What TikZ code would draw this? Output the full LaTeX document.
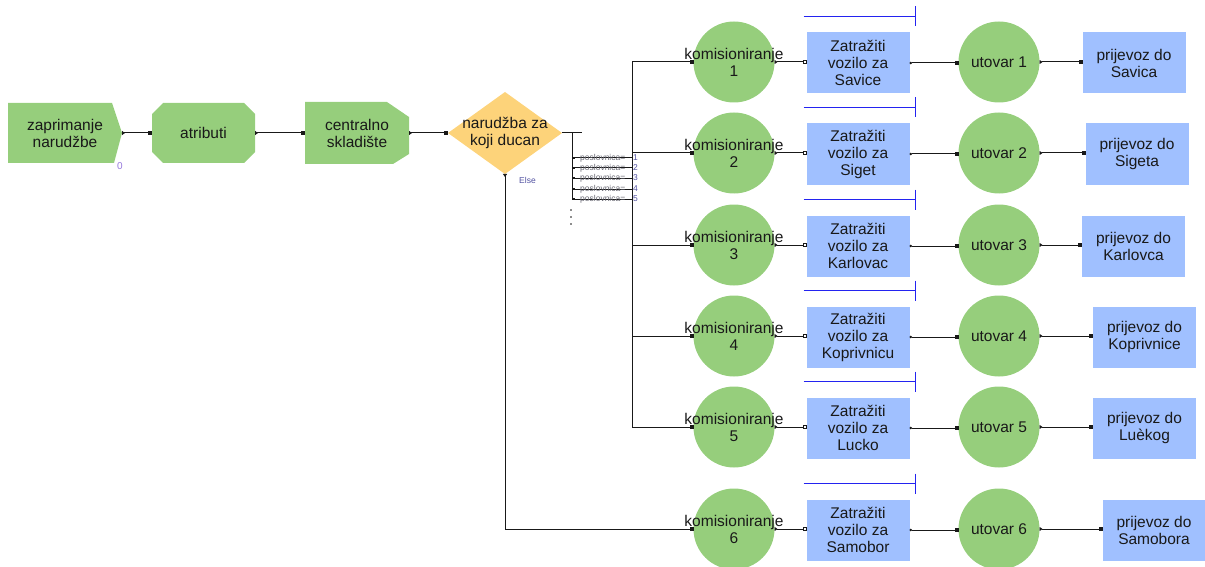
\documentclass[tikz,border=0pt]{standalone}
\usepackage{fontspec}
\setmainfont{Liberation Sans}
\usetikzlibrary{arrows.meta,calc}
\definecolor{gfill}{RGB}{150,206,124}
\definecolor{bfill}{RGB}{160,192,255}
\definecolor{ofill}{RGB}{253,211,122}
\definecolor{bline}{RGB}{35,35,240}
\definecolor{txtc}{RGB}{25,25,25}
\definecolor{lblgray}{RGB}{105,105,115}
\definecolor{lblblue}{RGB}{80,80,160}
\definecolor{purp}{RGB}{150,120,220}
\begin{document}
\begin{tikzpicture}[x=1pt,y=-1pt,
  every node/.style={font=\fontsize{15.5}{17}\selectfont, text=txtc, align=center},
  holder/.style={inner sep=0pt, outer sep=0pt, rectangle},
  circ/.style={circle, fill=gfill, minimum size=81pt, inner sep=0pt, outer sep=0pt},
  bbox/.style={rectangle, fill=bfill, minimum width=103pt, minimum height=61pt, inner sep=0pt, outer sep=0pt},
  conn/.style={draw=txtc, line width=1pt},
  sq/.style={-{Square[length=4pt,width=4pt]}},
  trisq/.style={{Triangle[reversed,length=3pt,width=4pt]}-{Square[length=4pt,width=4pt]}},
  triosq/.style={{Triangle[reversed,length=3pt,width=4pt]}-{Square[open,fill=white,length=4pt,width=4pt]}},
  dotsq/.style={{Circle[length=2.5pt]}-{Square[length=4pt,width=4pt]}},
  bluemark/.style={draw=bline, line width=1.2pt},
  tiny/.style={font=\fontsize{8.5}{8.5}\selectfont, inner sep=0pt},
]
\useasboundingbox (0,0) rectangle (1205,567);

% left shapes
\fill[gfill] (8,103) -- (112,103) -- (122,133) -- (114,163) -- (8,163) -- cycle;
\fill[gfill] (163,103) -- (244,103) -- (255,114) -- (255,152) -- (244,163) -- (163,163) -- (152,152) -- (152,114) -- cycle;
\fill[gfill] (305,102) -- (387,102) -- (409,117) -- (409,154) -- (393,164) -- (305,164) -- cycle;
\fill[ofill] (448,133) -- (505,92) -- (562,133) -- (505,174) -- cycle;

\node[holder, minimum width=114pt, minimum height=60pt] (zap) at (65,133) {zaprimanje\\narudžbe};
\node[holder, minimum width=103pt, minimum height=60pt] (atr) at (203.5,133) {atributi};
\node[holder, minimum width=104pt, minimum height=62pt] (cen) at (357,133) {centralno\\skladište};
\node[holder, minimum width=114pt, minimum height=82pt] (dia) at (505,133) {narudžba za\\koji ducan};
\node[font=\fontsize{10}{10}\selectfont, text=purp, inner sep=0pt] (cnt) at (120,166) {0};

\draw[conn, trisq] (zap.east) -- (atr.west);
\draw[conn, trisq] (atr.east) -- (cen.west);
\draw[conn, trisq] (cen.east) -- (dia.west);

% branching
\coordinate (dtail) at (582,133);
\coordinate (vtop) at (572,133);
\coordinate (vbot) at (572,200);
\draw[conn] (dia.east) -- (dtail);
\draw[conn] (vtop) -- (vbot);
\foreach \j/\yy in {1/158,2/168,3/178,4/189,5/199}{
  \coordinate (bs\j) at (572,\yy);
  \coordinate (be\j) at (632,\yy);
  \draw[conn, {Square[length=2.5pt,width=2.5pt]}-] (bs\j) -- (be\j);
  \node[tiny, text=lblgray, anchor=west] (bl\j) at (580,\yy) {poslovnica=};
  \node[tiny, text=lblblue, anchor=west] (bn\j) at (633,\yy) {\j};
}
\foreach \k/\yy in {1/210,2/217,3/224}{
  \fill[txtc] (571,\yy) circle (0.8) coordinate (dt\k);
}
\node[tiny, text=lblblue, anchor=west] (else) at (519,180) {Else};

% bus
\coordinate (bus1) at (632,62);
\coordinate (bus2) at (632,153);
\coordinate (bus3) at (632,245);
\coordinate (bus4) at (632,336);
\coordinate (bus5) at (632,427);
\draw[conn] (bus1) -- (bus5);

% rows
\foreach \i/\y/\zt/\px/\pt in {1/62/Savice/1134/Savica, 2/153/Siget/1137/Sigeta, 3/245/Karlovac/1133.5/Karlovca, 4/336/Koprivnicu/1144.5/Koprivnice, 5/427/Lucko/1144.5/Luèkog, 6/529/Samobor/1154/Samobora}{
  \node[circ] (k\i) at (734,\y) {};
  \node (kt\i) at (k\i) {komisioniranje\\\i};
  \node[bbox] (z\i) at (858,\y+1) {Zatražiti\\vozilo za\\\zt};
  \node[circ] (u\i) at (999,\y) {utovar \i};
  \node[bbox] (p\i) at (\px,\y+1) {prijevoz do\\\pt};
  \draw[conn, triosq] (k\i.east) -- (k\i.east -| z\i.west);
  \draw[conn, dotsq] (z\i.east) -- (z\i.east -| u\i.west);
  \draw[conn, trisq] (u\i.east) -- (u\i.east -| p\i.west);
  \draw[bluemark] ($(z\i.north west)+(-3,-16)$) -- ($(z\i.north east)+(6,-16)$) coordinate (bm\i);
  \draw[bluemark] ($(bm\i)+(0,-10)$) -- ($(bm\i)+(0,10)$);
}
\foreach \i in {1,...,5}{
  \draw[conn, sq] (bus\i) -- (k\i.west);
}
\draw[conn, trisq] (dia.south) |- (k6.west);
\end{tikzpicture}
\end{document}
